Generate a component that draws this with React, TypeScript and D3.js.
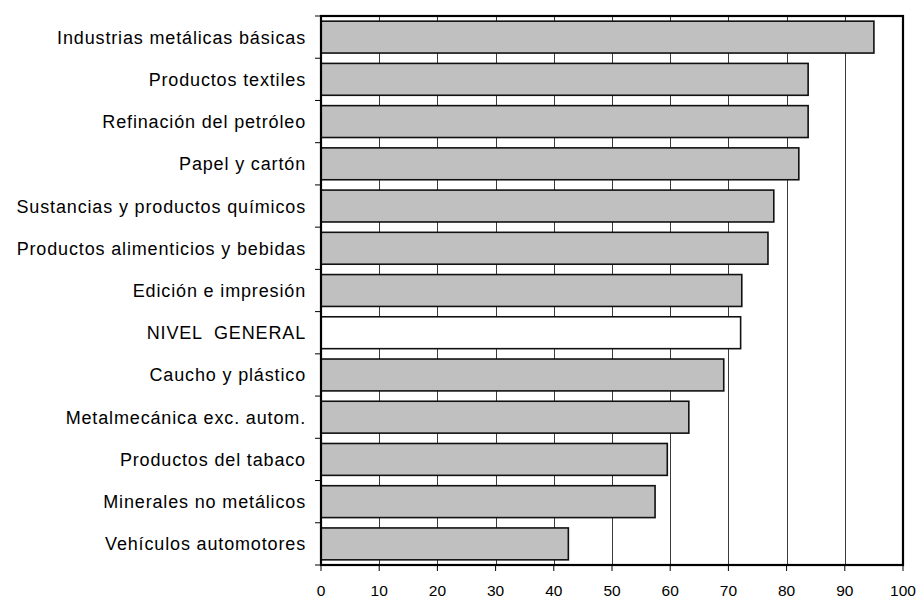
import React from "react";
import * as d3 from "d3";

const categories = [
  "Industrias metálicas básicas",
  "Productos textiles",
  "Refinación del petróleo",
  "Papel y cartón",
  "Sustancias y productos químicos",
  "Productos alimenticios y bebidas",
  "Edición e impresión",
  "NIVEL  GENERAL",
  "Caucho y plástico",
  "Metalmecánica exc. autom.",
  "Productos del tabaco",
  "Minerales no metálicos",
  "Vehículos automotores",
];
const values = [95.0, 83.7, 83.7, 82.1, 77.8, 76.8, 72.3, 72.1, 69.2, 63.2, 59.5, 57.4, 42.5];
const highlighted = ["NIVEL  GENERAL"];
const xTicks = [0, 10, 20, 30, 40, 50, 60, 70, 80, 90, 100];

const W = 917;
const H = 598;
const M = { left: 321, right: 903, top: 16, bottom: 565 };

export default function App() {
  const x = d3.scaleLinear().domain([0, 100]).range([M.left, M.right]);
  const y = d3
    .scaleBand<string>()
    .domain(categories)
    .range([M.top, M.bottom])
    .paddingInner(0.245)
    .paddingOuter(0.1225);
  const step = y.step();
  const boundaries = d3.range(categories.length + 1).map((i) => M.top + i * step);
  const font = "'Liberation Sans', Arial, sans-serif";

  return (
    <svg
      width={W}
      height={H}
      style={{ position: "absolute", left: 0, top: 0, background: "#fff" }}
      fontFamily={font}
    >
      <rect x={0} y={0} width={W} height={H} fill="#fff" />
      {/* gridlines */}
      {xTicks.slice(1, -1).map((t) => (
        <line
          key={"g" + t}
          x1={Math.round(x(t)) + 0.5}
          x2={Math.round(x(t)) + 0.5}
          y1={M.top}
          y2={M.bottom}
          stroke="#3a3a3a"
          strokeWidth={1}
        />
      ))}
      {/* bars */}
      {categories.map((c, i) => (
        <rect
          key={c}
          x={x(0)}
          y={y(c)!}
          width={x(values[i]) - x(0)}
          height={y.bandwidth()}
          fill={highlighted.includes(c) ? "#ffffff" : "#c0c0c0"}
          stroke="#111"
          strokeWidth={1.6}
        />
      ))}
      {/* frame */}
      <rect
        x={M.left}
        y={M.top}
        width={M.right - M.left}
        height={M.bottom - M.top}
        fill="none"
        stroke="#000"
        strokeWidth={2.2}
      />
      {/* y ticks */}
      {boundaries.map((b, i) => (
        <line key={"yt" + i} x1={M.left - 6} x2={M.left} y1={b} y2={b} stroke="#000" strokeWidth={1} />
      ))}
      {/* x ticks */}
      {xTicks.map((t) => (
        <line
          key={"xt" + t}
          x1={x(t)}
          x2={x(t)}
          y1={M.bottom}
          y2={M.bottom + 6}
          stroke="#000"
          strokeWidth={1}
        />
      ))}
      {/* category labels */}
      {categories.map((c) => (
        <text
          key={"l" + c}
          x={306}
          y={y(c)! + y.bandwidth() / 2 + 6.5}
          textAnchor="end"
          fontSize={18}
          letterSpacing={0.85}
          fill="#000"
          style={{ whiteSpace: "pre" }}
        >
          {c}
        </text>
      ))}
      {/* x tick labels */}
      {xTicks.map((t) => (
        <text
          key={"xl" + t}
          x={x(t)}
          y={595.5}
          textAnchor="middle"
          fontSize={15.5}
          fill="#000"
        >
          {t}
        </text>
      ))}
    </svg>
  );
}
